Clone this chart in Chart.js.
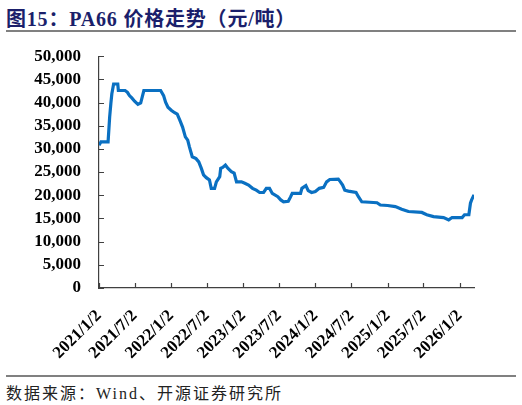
<!DOCTYPE html>
<html lang="zh">
<head>
  <meta charset="UTF-8">
  <title>PA66 价格走势</title>
  <script src="https://cdn.jsdelivr.net/npm/chart.js"></script>
  <style>
    body {
      margin: 0;
      width: 522px;
      height: 405px;
      background: #fff;
      position: relative;
      overflow: hidden;
    }
    #title {
      position: absolute;
      left: 6px;
      top: 3px;
      font-family: "Liberation Serif", "Noto Sans CJK SC", serif;
      font-weight: bold;
      font-size: 20px;
      letter-spacing: 0.8px;
      color: #1b1f6b;
      white-space: nowrap;
    }
    .rule {
      position: absolute;
      left: 6px;
      width: 510px;
      height: 2px;
      background: #808080;
    }
    #source {
      position: absolute;
      left: 6px;
      top: 380px;
      font-family: "Liberation Serif", "Noto Sans CJK SC", serif;
      font-size: 16px;
      letter-spacing: 2px;
      color: #222;
      white-space: nowrap;
    }
    #wrap {
      position: absolute;
      left: 0;
      top: 28px;
      width: 522px;
      height: 342px;
    }
  </style>
</head>
<body>
  <div id="title">图15：PA66 价格走势（元/吨）</div>
  <div class="rule" style="top:30px"></div>
  <div id="wrap"><canvas id="chart"></canvas></div>
  <div class="rule" style="top:375px"></div>
  <div id="source">数据来源：Wind、开源证券研究所</div>

  <script>
    // PA66 price, yuan/ton
    const dates = [
      '2021/1/2', '2021/1/12', '2021/2/17', '2021/2/25', '2021/3/3', '2021/3/8', '2021/3/17', '2021/4/7',
      '2021/4/10', '2021/5/14', '2021/5/26', '2021/6/5', '2021/6/17', '2021/7/1', '2021/7/18', '2021/8/1',
      '2021/8/17', '2021/11/10', '2021/11/25', '2021/12/5', '2021/12/17', '2022/1/4', '2022/1/20', '2022/2/2',
      '2022/2/15', '2022/3/1', '2022/3/15', '2022/3/27', '2022/4/5', '2022/4/19', '2022/5/8', '2022/5/22',
      '2022/6/4', '2022/6/15', '2022/6/29', '2022/7/15', '2022/7/24', '2022/8/10', '2022/8/19', '2022/9/5',
      '2022/9/10', '2022/9/20', '2022/10/4', '2022/10/17', '2022/11/3', '2022/11/17', '2022/11/29', '2022/12/24',
      '2023/1/10', '2023/1/29', '2023/2/18', '2023/3/9', '2023/3/26', '2023/4/15', '2023/4/29', '2023/5/15',
      '2023/5/29', '2023/6/26', '2023/7/11', '2023/7/25', '2023/8/18', '2023/8/29', '2023/9/7', '2023/10/19',
      '2023/10/26', '2023/11/15', '2023/11/27', '2023/12/14', '2024/1/2', '2024/1/22', '2024/2/13', '2024/2/28',
      '2024/3/15', '2024/4/27', '2024/5/8', '2024/5/19', '2024/5/30', '2024/6/17', '2024/7/26', '2024/8/7',
      '2024/8/24', '2024/10/2', '2024/11/9', '2024/11/26', '2025/1/2', '2025/2/10', '2025/3/14', '2025/4/17',
      '2025/6/24', '2025/7/19', '2025/8/22', '2025/10/12', '2025/11/7', '2025/11/24', '2026/1/14', '2026/1/26',
      '2026/2/17', '2026/2/25', '2026/3/3', '2026/3/15'
    ];
    const prices = [
      30800, 31500, 31500, 36900, 39800, 41900, 44000, 44000,
      42600, 42600, 42200, 41500, 41000, 40300, 39600, 39900,
      42600, 42600, 41500, 40100, 39000, 38300, 37800, 37500,
      36200, 34700, 32600, 31900, 30400, 28300, 27900, 27200,
      25800, 24400, 23800, 23300, 21500, 21500, 22900, 24000,
      25800, 26000, 26500, 25800, 25100, 24800, 22900, 22900,
      22600, 22200, 21500, 21100, 20600, 20600, 21500, 21500,
      20400, 19700, 19000, 18600, 18700, 19600, 20400, 20400,
      21500, 22100, 21000, 20600, 20800, 21500, 21700, 22900,
      23400, 23500, 22900, 22200, 21100, 20900, 20600, 19700,
      18600, 18500, 18400, 17900, 17800, 17550, 17000, 16500,
      16300, 15800, 15400, 15200, 14700, 15200, 15200, 15800,
      15800, 18300, 19000, 20100
    ];
    const tickLabels = [
      '2021/1/2', '2021/7/2', '2022/1/2', '2022/7/2', '2023/1/2', '2023/7/2',
      '2024/1/2', '2024/7/2', '2025/1/2', '2025/7/2', '2026/1/2'
    ];

    const start = new Date(2021, 0, 2);
    function dayOf(s) {
      const p = s.split('/').map(Number);
      return Math.round((new Date(p[0], p[1] - 1, p[2]) - start) / 86400000);
    }

    const points = dates.map((d, i) => ({ x: dayOf(d), y: prices[i] }));
    const tickDays = tickLabels.map(dayOf);

    // short tick marks drawn on the inner side of both axes
    const innerTicks = {
      id: 'innerTicks',
      afterDraw(chart) {
        const c = chart.ctx;
        const xs = chart.scales.x, ys = chart.scales.y;
        c.save();
        c.strokeStyle = '#404040';
        c.lineWidth = 1.2;
        c.beginPath();
        xs.ticks.forEach(t => {
          const px = Math.round(xs.getPixelForValue(t.value)) + 0.5;
          c.moveTo(px, ys.bottom);
          c.lineTo(px, ys.bottom - 5);
        });
        ys.ticks.forEach(t => {
          const py = Math.round(ys.getPixelForValue(t.value)) + 0.5;
          c.moveTo(xs.left, py);
          c.lineTo(xs.left + 5, py);
        });
        c.stroke();
        c.restore();
      }
    };

    const tickFont = { family: '"Liberation Serif", serif', size: 17, weight: 'bold' };

    new Chart(document.getElementById('chart'), {
      type: 'line',
      data: {
        datasets: [{
          data: points,
          borderColor: '#0a70c2',
          borderWidth: 3.2,
          pointRadius: 0,
          tension: 0,
          fill: false
        }]
      },
      options: {
        responsive: true,
        maintainAspectRatio: false,
        animation: false,
        layout: { padding: { top: 4, right: 48, left: 0, bottom: 0 } },
        plugins: {
          legend: { display: false },
          tooltip: { enabled: false }
        },
        scales: {
          x: {
            type: 'linear',
            min: 0,
            max: dayOf(dates[dates.length - 1]),
            afterBuildTicks: s => { s.ticks = tickDays.map(v => ({ value: v })); },
            afterFit: s => { s.height = 82; },
            grid: { display: false, drawTicks: false },
            border: { display: true, color: '#404040', width: 1.2 },
            ticks: {
              color: '#000',
              font: tickFont,
              minRotation: 45,
              maxRotation: 45,
              padding: 18,
              autoSkip: false,
              callback: v => {
                const i = tickDays.indexOf(v);
                return i >= 0 ? tickLabels[i] : '';
              }
            }
          },
          y: {
            min: 0,
            max: 50000,
            afterFit: s => { s.width = 99; },
            grid: { display: false, drawTicks: false },
            border: { display: true, color: '#404040', width: 1.2 },
            ticks: {
              stepSize: 5000,
              autoSkip: false,
              color: '#000',
              font: tickFont,
              padding: 18,
              callback: v => v.toLocaleString('en-US')
            }
          }
        }
      },
      plugins: [innerTicks]
    });
  </script>
</body>
</html>
